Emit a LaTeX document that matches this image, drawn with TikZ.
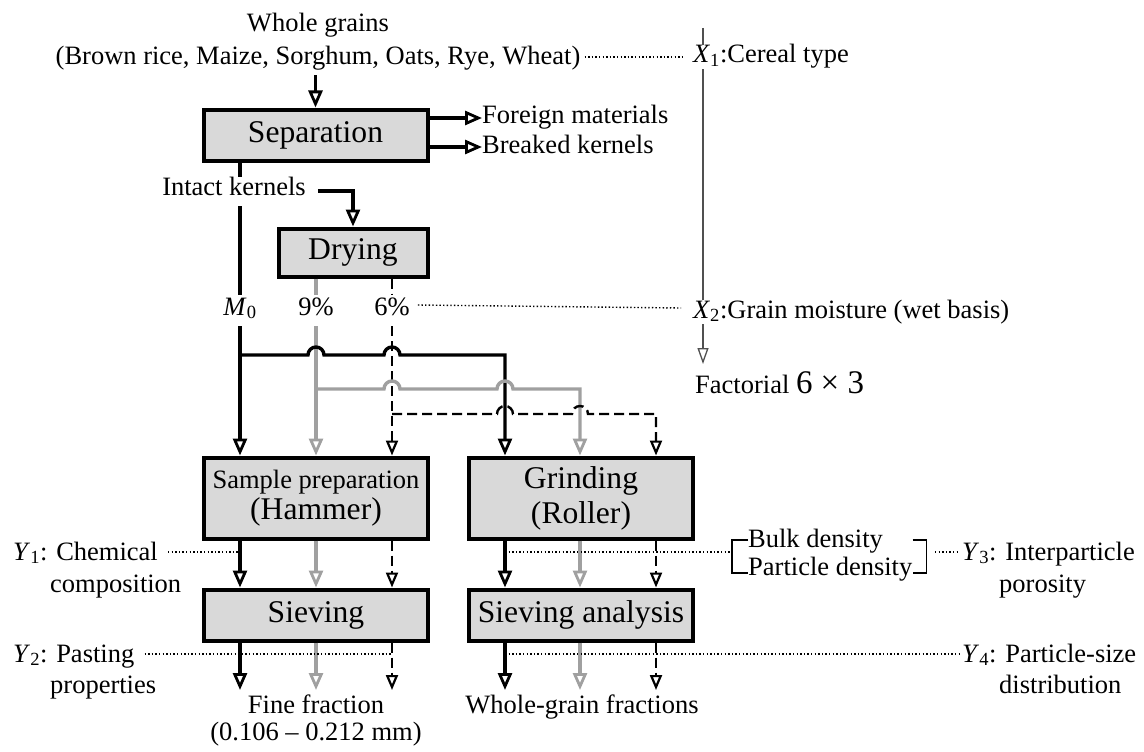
\documentclass[tikz,border=0pt]{standalone}
\usepackage{fontspec}
\setmainfont{Liberation Serif}
\usetikzlibrary{arrows.meta,calc}
\definecolor{boxgray}{RGB}{217,217,217}
\definecolor{lgray}{RGB}{160,160,160}
\definecolor{axgray}{RGB}{80,80,80}
\newcommand\sv[2]{\textit{#1}\textsubscript{#2}}
\begin{document}
\begin{tikzpicture}[x=1pt,y=-1pt,
  lbl/.style={font=\fontsize{26.5}{30}\selectfont, inner sep=0pt, text height=18pt, text depth=6pt},
  big/.style={font=\fontsize{31.6}{35}\selectfont},
  procbox/.style={draw, line width=4pt, fill=boxgray, inner sep=0pt, align=center},
  blk/.style={line width=3.4pt, draw=black},
  gry/.style={line width=3.4pt, draw=lgray},
  dsh/.style={line width=2.4pt, draw=black, dash pattern=on 10pt off 5pt},
  dot/.style={line width=1.4pt, draw=black, dash pattern=on 1.4pt off 2.2pt},
  brk/.style={line width=1.6pt, draw=black},
  axl/.style={line width=1.5pt, draw=axgray},
  tipb/.style={-{Triangle[open,length=17pt,width=14pt,line width=2.8pt]}},
  tipd/.style={-{Triangle[open,length=15pt,width=12pt,line width=2.2pt]}},
  tipa/.style={-{Triangle[open,length=16pt,width=11pt,line width=1.3pt]}},
  line join=miter
]
\fill[white] (0,0) rectangle (1144,752);
\useasboundingbox (0,0) rectangle (1144,752);

% column coordinates
\coordinate (xa) at (240,0);
\coordinate (xb) at (316,0);
\coordinate (xc) at (392,0);
\coordinate (xd) at (505,0);
\coordinate (xe) at (580,0);
\coordinate (xf) at (656,0);
\coordinate (ax) at (703,0);

% top
\node[lbl,anchor=base] (wg1) at (318,32) {Whole grains};
\node[lbl,anchor=base] (wg2) at (318,65) {(Brown rice, Maize, Sorghum, Oats, Rye, Wheat)};
\node[procbox,big,minimum width=224pt,minimum height=51pt] (sep) at (315.5,135) {Separation};
\draw[blk,tipb] ($(wg2.south -| sep.north)+(0,4)$) -- (sep.north);

\node[lbl,anchor=base west] (fm) at (482,124) {Foreign materials};
\node[lbl,anchor=base west] (bk) at (482,153) {Breaked kernels};
\draw[blk,tipb] (sep.east |- fm) -- (fm.west);
\draw[blk,tipb] (sep.east |- bk) -- (bk.west);

\node[lbl,anchor=base] (ik) at (234,195) {Intact kernels};
\node[procbox,big,minimum width=149pt,minimum height=48pt] (dry) at (353,252.5) {Drying};
\draw[blk] (sep.south -| xa) -- (ik.north -| xa);
\draw[blk,tipb] ($(ik.east)+(12,2)$) -| (dry.north);

\node[lbl,anchor=base] (m0) at (240,315) {\sv{M}{0}};
\node[lbl,anchor=base] (p9) at (316,315) {9\%};
\node[lbl,anchor=base] (p6) at (392,315) {6\%};
\draw[blk,shorten <=5pt,shorten >=2pt] (ik.south -| xa) -- (m0.north);
\draw[gry] (dry.south -| p9) -- ($(p9.north)+(0,-2)$);
\draw[dsh] (dry.south -| p6) -- ($(p6.north)+(0,-2)$);

% lower boxes
\node[procbox,minimum width=224pt,minimum height=81pt] (ham) at (316,498)
  {{\fontsize{26.5}{30}\selectfont Sample preparation}\\[2pt]{\fontsize{31.6}{35}\selectfont (Hammer)}};
\node[procbox,big,minimum width=224pt,minimum height=81pt] (grd) at (581,498) {Grinding\\(Roller)};
\node[procbox,big,minimum width=224pt,minimum height=51pt] (sv1) at (316,615) {Sieving};
\node[procbox,big,minimum width=224pt,minimum height=51pt] (sv2) at (581,615) {Sieving analysis};

% junctions
\coordinate (jb) at (240,355);
\coordinate (jg) at (316,389);
\coordinate (jd) at (392,414);

% vertical feeds into hammer box
\draw[blk,tipb,shorten <=5pt] (m0.south) -- (ham.north -| xa);
\draw[gry,tipb,shorten <=5pt] (p9.south) -- (ham.north -| xb);
\draw[dsh,tipd,shorten <=5pt] (p6.south) -- (ham.north -| xc);

% crossings with hops
\draw[blk,tipb] (jb) -- ($(jb -| xb)+(-8,0)$) arc[start angle=180,end angle=0,radius=8pt]
  -- ($(jb -| xc)+(-8,0)$) arc[start angle=180,end angle=0,radius=8pt]
  -- (jb -| xd) -- (grd.north -| xd);
\draw[gry,tipb] (jg) -- ($(jg -| xc)+(-8,0)$) arc[start angle=180,end angle=0,radius=8pt]
  -- ($(jg -| xd)+(-8,0)$) arc[start angle=180,end angle=0,radius=8pt]
  -- (jg -| xe) -- (grd.north -| xe);
\draw[dsh,tipd] (jd) -- ($(jd -| xd)+(-8,0)$) arc[start angle=180,end angle=0,radius=8pt]
  -- ($(jd -| xe)+(-8,0)$) arc[start angle=180,end angle=0,radius=8pt]
  -- (jd -| xf) -- (grd.north -| xf);

% between boxes
\draw[blk,tipb] (ham.south -| xa) -- (sv1.north -| xa);
\draw[gry,tipb] (ham.south -| xb) -- (sv1.north -| xb);
\draw[dsh,tipd] (ham.south -| xc) -- (sv1.north -| xc);
\draw[blk,tipb] (grd.south -| xd) -- (sv2.north -| xd);
\draw[gry,tipb] (grd.south -| xe) -- (sv2.north -| xe);
\draw[dsh,tipd] (grd.south -| xf) -- (sv2.north -| xf);

% outputs
\coordinate (ea) at (240,690);
\coordinate (eb) at (316,690);
\coordinate (ec) at (392,690);
\coordinate (ed) at (505,690);
\coordinate (ee) at (580,690);
\coordinate (ef) at (656,690);
\draw[blk,tipb] (sv1.south -| xa) -- (ea);
\draw[gry,tipb] (sv1.south -| xb) -- (eb);
\draw[dsh,tipd] (sv1.south -| xc) -- (ec);
\draw[blk,tipb] (sv2.south -| xd) -- (ed);
\draw[gry,tipb] (sv2.south -| xe) -- (ee);
\draw[dsh,tipd] (sv2.south -| xf) -- (ef);

\node[lbl,anchor=base] (ff1) at (316,713) {Fine fraction};
\node[lbl,anchor=base] (ff2) at (316,740) {(0.106 – 0.212 mm)};
\node[lbl,anchor=base] (wgf) at (582,713) {Whole-grain fractions};

% factor axis
\node[lbl,anchor=base west] (x1) at (693,63) {\sv{X}{1}:Cereal type};
\node[lbl,anchor=base west] (x2) at (693,318) {\sv{X}{2}:Grain moisture (wet basis)};
\node[lbl,anchor=base west] (fac) at (695,393) {Factorial {\fontsize{33}{36}\selectfont 6 × 3}};
\coordinate (ax0) at (703,28);
\coordinate (axend) at (703,364);
\draw[axl] (ax0) -- (x1.north -| ax);
\draw[axl] (x1.south -| ax) -- (x2.north -| ax);
\draw[axl,tipa] (x2.south -| ax) -- (axend);
\draw[dot] ($(wg2.east)+(4,-2)$) -- ($(x1.west)+(-10,0)$);
\draw[dot] ($(p6.east)+(8,-4)$) -- ($(x2.west)+(-12,-4)$);

% responses left
\node[lbl,anchor=base west] (y1) at (13,560) {\sv{Y}{1}: Chemical};
\node[lbl,anchor=base west] (y1b) at (50,592) {composition};
\node[lbl,anchor=base west] (y2) at (13,662) {\sv{Y}{2}: Pasting};
\node[lbl,anchor=base west] (y2b) at (50,693) {properties};
\draw[dot] ($(y1.east)+(10,-2)$) -- ($(y1.east -| xa)+(0,-2)$);
\draw[dot] ($(y2.east)+(10,-2)$) -- ($(y2.east -| xc)+(0,-2)$);

% responses right
\node[lbl,anchor=base west] (bd) at (748,547) {Bulk density};
\node[lbl,anchor=base west] (pd) at (748,575) {Particle density};
\draw[brk] ($(bd.west)+(0,-1)$) -- ++(-16,0) |- ($(pd.west)+(0,4)$);
\draw[brk] ($(pd.east |- bd.west)+(0,-1)$) -- ++(14,0) coordinate (rbt) |- ($(pd.east)+(0,4)$);
\coordinate (brl) at (732,552);
\coordinate (brr) at (935,552);
\draw[dot] (xd |- brl) -- (brl);
\node[lbl,anchor=base west] (y3) at (962,560) {\sv{Y}{3}: Interparticle};
\node[lbl,anchor=base west] (y3b) at (999,592) {porosity};
\draw[dot] (brr) -- ($(y3.west |- brr)+(-3,0)$);
\node[lbl,anchor=base west] (y4) at (962,662) {\sv{Y}{4}: Particle-size};
\node[lbl,anchor=base west] (y4b) at (999,693) {distribution};
\draw[dot] ($(xd |- y4.west)+(0,-2)$) -- ($(y4.west)+(-3,-2)$);
\end{tikzpicture}
\end{document}
